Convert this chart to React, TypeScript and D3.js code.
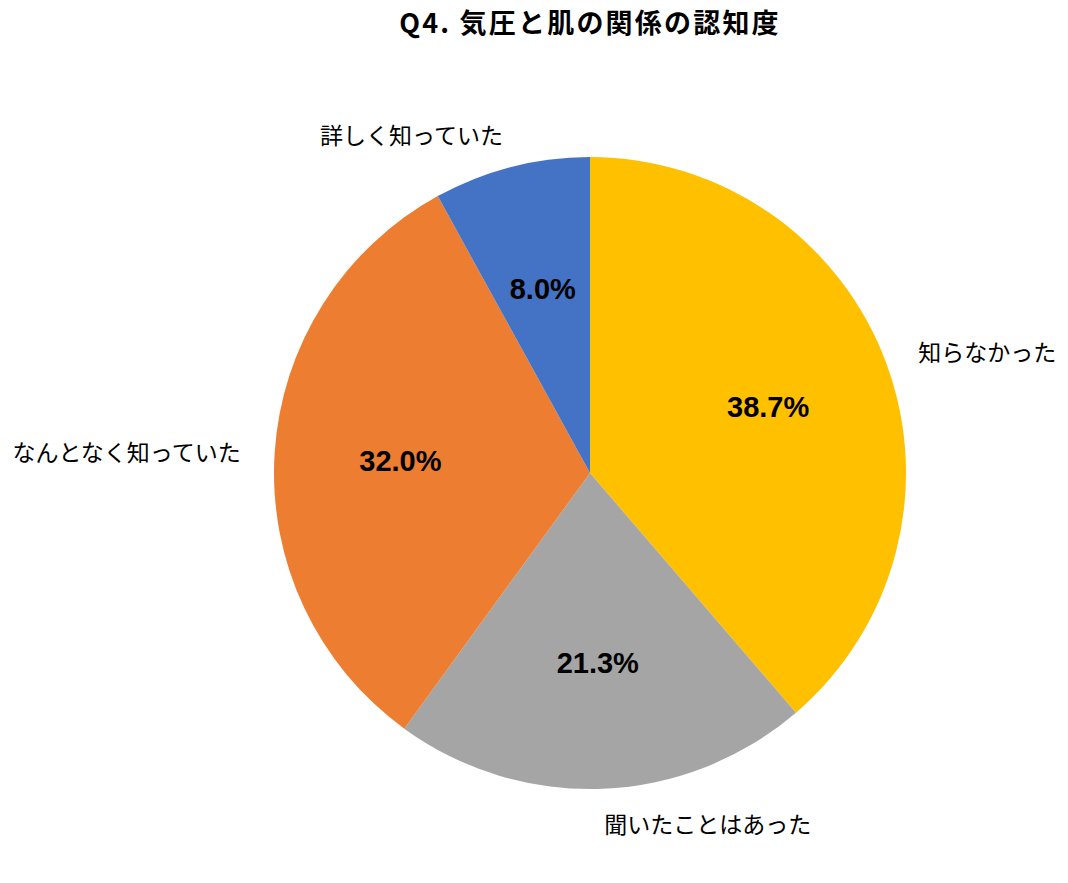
import React from "react";
import * as d3 from "d3";

const categories = ["知らなかった", "聞いたことはあった", "なんとなく知っていた", "詳しく知っていた"];
const values = [38.7, 21.3, 32.0, 8.0];
const colors = ["#FFC000", "#A5A5A5", "#ED7D31", "#4472C4"];
const title = "Q4. 気圧と肌の関係の認知度";

const W = 1068;
const H = 883;
const CX = 590;
const CY = 473;
const R = 316;

export default function App() {
  const data = categories.map((c, i) => ({ name: c, value: values[i], color: colors[i] }));
  const pie = d3.pie<any>().value((d) => d.value).sort(null);
  const arcs = pie(data);
  const arc = d3.arc<any>().innerRadius(0).outerRadius(R);
  const pctArc = d3.arc<any>().innerRadius(190).outerRadius(190);
  const lblArc = d3.arc<any>().innerRadius(350).outerRadius(350);

  return (
    <svg width={W} height={H} style={{ display: "block", position: "absolute", left: 0, top: 0 }}>
      <rect width={W} height={H} fill="#ffffff" />
      <text
        x={CX}
        y={33}
        textAnchor="middle"
        fontFamily="'Noto Sans CJK JP', 'Liberation Sans', sans-serif"
        fontWeight="bold"
        fontSize={27}
        letterSpacing={2.2}
        fill="#000"
      >
        {title}
      </text>
      <g transform={`translate(${CX},${CY})`}>
        {arcs.map((a, i) => (
          <path key={"s" + i} d={arc(a) || ""} fill={a.data.color} />
        ))}
        {arcs.map((a, i) => {
          const [x, y] = pctArc.centroid(a);
          return (
            <text
              key={"p" + i}
              x={x}
              y={y}
              textAnchor="middle"
              dominantBaseline="central"
              fontFamily="'Liberation Sans', Arial, sans-serif"
              fontWeight="bold"
              fontSize={29}
              fill="#000"
            >
              {a.data.value.toFixed(1) + "%"}
            </text>
          );
        })}
        {arcs.map((a, i) => {
          const [x, y] = lblArc.centroid(a);
          return (
            <text
              key={"l" + i}
              x={x}
              y={y}
              textAnchor={x > 0 ? "start" : "end"}
              dominantBaseline="central"
              fontFamily="'Noto Sans CJK JP', sans-serif"
              fontSize={23}
              fill="#000"
            >
              {a.data.name}
            </text>
          );
        })}
      </g>
    </svg>
  );
}
